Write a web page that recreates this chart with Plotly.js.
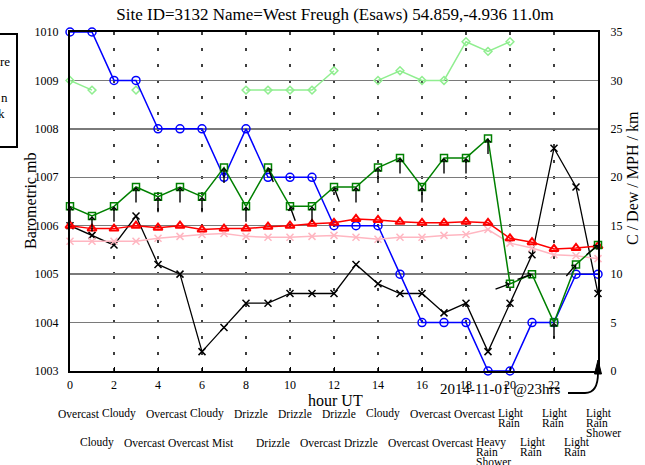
<!DOCTYPE html>
<html><head><meta charset="utf-8">
<script src="https://cdn.plot.ly/plotly-3.0.1.min.js"></script>
<style>html,body{margin:0;padding:0;background:#fff}#chart{width:645px;height:465px}</style>
</head><body><div id="chart"></div>
<script>
// ---- data ----
const hours = [0,1,2,3,4,5,6,7,8,9,10,11,12,13,14,15,16,17,18,19,20,21,22,23,24];
const pressure = [1006.0,1005.8,1005.6,1006.2,1005.2,1005.0,1003.4,1003.9,1004.4,1004.4,1004.6,1004.6,1004.6,1005.2,1004.8,1004.6,1004.6,1004.2,1004.4,1003.4,1004.4,1005.4,1007.6,1006.8,1004.6];
const temperature = [15.0,14.7,14.7,15.0,14.8,15.0,14.6,14.7,14.7,14.9,15.0,15.2,15.3,15.7,15.6,15.4,15.3,15.3,15.4,15.3,13.7,13.3,12.6,12.7,12.9];
const dewPoint = [13.4,13.4,13.4,13.4,13.7,13.9,14.1,14.2,13.9,13.8,13.8,13.9,14.0,13.8,13.6,13.8,13.8,14.0,14.1,14.6,13.2,12.7,12.0,11.9,11.6];
const windSpeed = [17,16,17,19,18,19,18,21,17,21,17,17,19,19,21,22,19,22,22,24,9,10,5,11,13];
const windGust = [30,29,null,29,null,null,null,null,29,29,29,29,31,null,30,31,30,30,34,33,34,null,null,null,null];
const windDir = [180,180,180,180,180,180,180,180,180,160,160,180,160,180,180,180,180,180,180,180,250,250,180,220,230];
const visibility = [35,35,30,30,25,25,25,20,25,20,20,20,15,15,15,10,5,5,5,0,0,5,5,10,10];
const weather = ["Overcast","Cloudy","Cloudy","Overcast","Overcast","Overcast","Cloudy","Mist","Drizzle","Drizzle","Drizzle","Overcast","Drizzle","Drizzle","Cloudy","Overcast","Overcast","Overcast","Overcast","Heavy Rain Shower","Light Rain","Light Rain","Light Rain","Light Rain","Light Rain Shower"];
const xTicks = [0,2,4,6,8,10,12,14,16,18,20,22];
const titleText = "Site ID=3132 Name=West Freugh (Esaws) 54.859,-4.936 11.0m";
const stampText = "2014-11-01 @23hrs";

// ---- layout helpers (plot area: x 70..598, y 32..371) ----
const L = 70, R = 598, T = 32, B = 371;
const px = p => (p - L) / (R - L);
const py = p => (B - p) / (B - T);
const FONT = "Liberation Serif, Times New Roman, serif";

const traces = [
  {x: hours, y: pressure, yaxis: 'y', mode: 'lines+markers', name: 'Pressure',
   line: {color: '#000000', width: 1.3}, marker: {symbol: 'x-thin-open', size: 7, line: {color: '#000000', width: 1.5}}, cliponaxis: false},
  {x: hours, y: windGust, yaxis: 'y2', mode: 'lines+markers', name: 'Gust', connectgaps: false,
   line: {color: '#90ee90', width: 1.5}, marker: {symbol: 'diamond-open', size: 6, color: '#90ee90', line: {color: '#90ee90', width: 1.5}}, cliponaxis: false},
  {x: hours, y: visibility, yaxis: 'y2', mode: 'lines+markers', name: 'Visibility',
   line: {color: '#0000ff', width: 1.5}, marker: {symbol: 'circle-open', size: 8, color: '#0000ff', line: {color: '#0000ff', width: 1.5}}, cliponaxis: false},
  {x: hours, y: dewPoint, yaxis: 'y2', mode: 'lines+markers', name: 'Dew',
   line: {color: '#ffb6c1', width: 1.5}, marker: {symbol: 'x-thin-open', size: 7, color: '#ffb6c1', line: {color: '#ffb6c1', width: 1.5}}, cliponaxis: false},
  {x: hours, y: temperature, yaxis: 'y2', mode: 'lines+markers', name: 'Temp',
   line: {color: '#ff0000', width: 1.5}, marker: {symbol: 'triangle-up-open', size: 8, color: '#ff0000', line: {color: '#ff0000', width: 2}}, cliponaxis: false},
  {x: hours, y: windSpeed, yaxis: 'y2', mode: 'lines+markers', name: 'Wind',
   line: {color: '#008000', width: 1.5}, marker: {symbol: 'square-open', size: 7, color: '#008000', line: {color: '#008000', width: 1.5}}, cliponaxis: false}
];

const annotations = [];
// wind direction arrows
const AL = 17;
hours.forEach((h, i) => {
  const d = windDir[i] * Math.PI / 180;
  annotations.push({x: h, y: windSpeed[i], xref: 'x', yref: 'y2', text: '', showarrow: true,
    ax: AL * Math.sin(d), ay: -AL * Math.cos(d), arrowhead: 4, arrowsize: 0.8, arrowwidth: 1.4,
    arrowcolor: '#000000', standoff: 0});
});
// weather labels below axis
hours.forEach((h, i) => {
  const words = weather[i].split(' ');
  const base = (i % 2 === 0) ? 413.5 : 442.5;
  words.forEach((w, j) => {
    annotations.push({x: h, xref: 'x', xanchor: 'left', xshift: -12, y: 0, yref: 'paper', yanchor: 'middle',
      yshift: -(base + 9.5 * j - B), text: w, showarrow: false, borderpad: 0, borderwidth: 0,
      font: {family: FONT, size: 11.5, color: '#000'}});
  });
});
// axis titles and stamp
const centered = (x, y, text, size, angle) => ({xref: 'paper', yref: 'paper', x: px(x), y: py(y), xanchor: 'center', yanchor: 'middle',
  text: text, textangle: angle || 0, showarrow: false, borderpad: 0, font: {family: FONT, size: size, color: '#000'}});
annotations.push(centered(30, 201, 'Barometric mb', 16, -90));
annotations.push(centered(632, 178, 'C / Dew / MPH / km', 16, -90));
annotations.push(centered(335, 401, 'hour UT', 16));
annotations.push(centered(500, 389, stampText, 15));
// partial legend box text
[['re', 11, 61], ['n', 9, 98], ['k', 6, 113]].forEach(t => {
  annotations.push({xref: 'paper', yref: 'paper', x: px(t[1]), y: py(t[2]), xanchor: 'right', yanchor: 'middle',
    text: t[0], showarrow: false, borderpad: 0, font: {family: FONT, size: 13, color: '#000'}});
});

const shapes = [
  {type: 'line', xref: 'paper', yref: 'y', x0: 0, x1: 1, y0: 1005, y1: 1005, line: {color: '#000', width: 1.5}, layer: 'below'},
  {type: 'line', xref: 'paper', yref: 'y', x0: 0, x1: 1, y0: 1008, y1: 1008, line: {color: '#000', width: 1.5}, layer: 'below'},
  {type: 'rect', xref: 'paper', yref: 'paper', x0: px(-10), x1: px(17), y0: py(147), y1: py(34), line: {color: '#000', width: 2}},
  {type: 'path', xref: 'paper', yref: 'paper',
   path: `M${px(568)},${py(393)} L${px(585)},${py(393)} Q${px(598)},${py(393)} ${px(598)},${py(373)}`,
   line: {color: '#000', width: 1.8}},
  {type: 'path', xref: 'paper', yref: 'paper',
   path: `M${px(598)},${py(360)} L${px(594.5)},${py(374)} L${px(601.5)},${py(374)} Z`,
   fillcolor: '#000', line: {color: '#000', width: 1}}
];
// sparse dotted vertical grid at the labelled hours
xTicks.filter(t => t > 0).forEach(t => {
  shapes.push({type: 'line', xref: 'x', yref: 'paper', x0: t, x1: t, y0: 1, y1: 0,
    line: {color: '#000', width: 1.5, dash: '3px,13px'}, layer: 'below'});
});

const layout = {
  width: 645, height: 465,
  margin: {l: L, r: 645 - R, t: T, b: 465 - B, pad: 0},
  paper_bgcolor: '#fff', plot_bgcolor: '#fff',
  showlegend: false,
  font: {family: FONT, size: 12, color: '#000'},
  title: {text: titleText, x: px(335), xref: 'paper', xanchor: 'center', y: (465 - 14) / 465, yref: 'container', yanchor: 'middle',
    font: {family: FONT, size: 17, color: '#000'}},
  xaxis: {range: [0, 24], tickvals: xTicks, ticktext: xTicks.map(String), showgrid: false, zeroline: false,
    showline: true, mirror: true, linecolor: '#000', linewidth: 2,
    ticks: 'inside', ticklen: 4, tickcolor: '#000', tickfont: {family: FONT, size: 12}, ticklabelstandoff: 2},
  yaxis: {range: [1003, 1010], dtick: 1, showgrid: true, gridcolor: '#7a7a7a', gridwidth: 1.5, zeroline: false,
    showline: true, linecolor: '#000', linewidth: 2, ticks: '', tickfont: {family: FONT, size: 12}, ticklabelstandoff: 7},
  yaxis2: {range: [0, 35], dtick: 5, overlaying: 'y', side: 'right', showgrid: false, zeroline: false,
    showline: true, linecolor: '#000', linewidth: 2, ticks: '', tickfont: {family: FONT, size: 12}, ticklabelstandoff: 8},
  annotations: annotations,
  shapes: shapes
};

Plotly.newPlot('chart', traces, layout, {displayModeBar: false, staticPlot: true});
</script>
</body></html>
